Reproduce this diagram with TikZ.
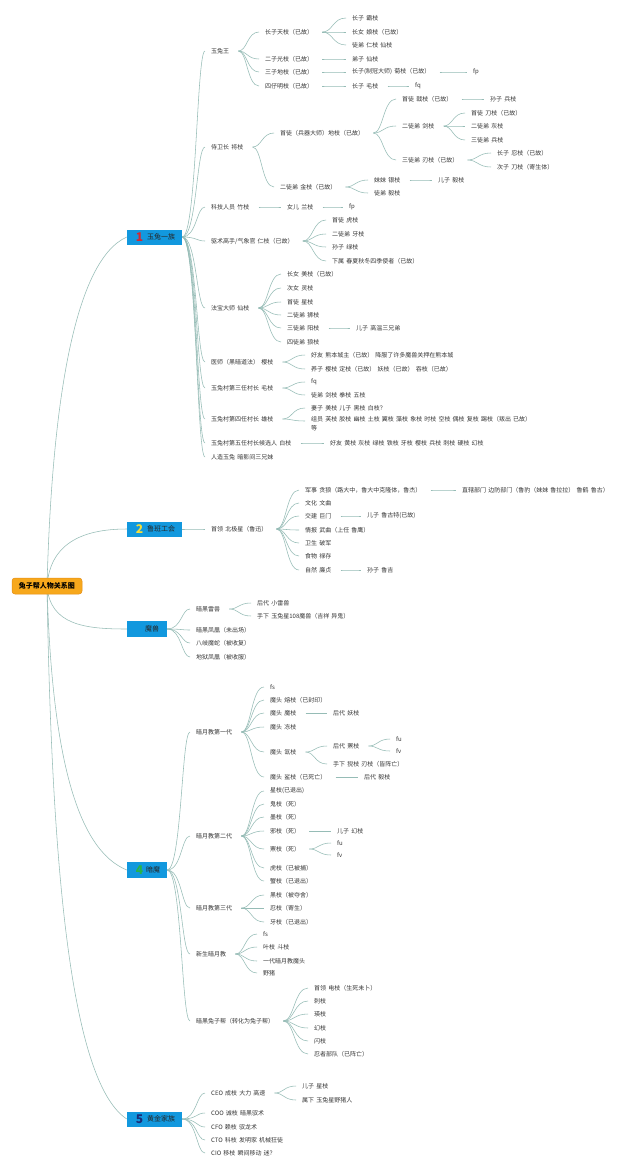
\documentclass[tikz,border=0pt]{standalone}
\usepackage{fontspec}
\setmainfont{Noto Sans CJK SC}[WordSpace=1.6]
\usetikzlibrary{calc,backgrounds}
\definecolor{txtc}{RGB}{55,55,55}
\definecolor{linec}{RGB}{150,188,182}
\definecolor{boxc}{RGB}{18,152,222}
\definecolor{rootc}{RGB}{247,168,28}
\definecolor{rootb}{RGB}{228,140,20}
\definecolor{n1c}{RGB}{214,38,48}
\definecolor{n2c}{RGB}{246,222,58}
\definecolor{n4c}{RGB}{40,180,70}
\definecolor{n5c}{RGB}{25,45,120}
\newcommand\fs{\fontsize{6}{9}\selectfont}
\tikzset{
 t/.style={anchor=west, inner sep=0pt, text=txtc, font=\fs},
 conn/.style={draw=linec, line width=0.55pt},
 catbox/.style={fill=boxc, inner sep=0pt, minimum height=15pt},
 numtxt/.style={inner sep=0pt, font=\fontsize{12}{12}\selectfont\bfseries},
 cattxt/.style={anchor=west, inner sep=0pt, font=\fontsize{7}{8}\selectfont, text=black!85},
}
\newcommand\lkp[3]{%
 \path ($(#2)!.5!(#3)$) coordinate (m);
 \draw[conn] ([xshift=#1]#2) .. controls (m |- #2) and (m |- #3) .. ([xshift=-6pt]#3);}
\newcommand\lk[2]{\lkp{9pt}{#1.east}{#2.west}}
\newcommand\lkb[2]{\lkp{0pt}{#1.east}{#2.west}}
\begin{document}
\begin{tikzpicture}[x=1pt,y=-1pt]
\useasboundingbox (0,0) rectangle (640,1171);
% root and categories
\node[fill=rootc, draw=rootb, line width=0.5pt, rounded corners=3pt, minimum width=70pt, minimum height=16pt, inner sep=0pt, font=\fontsize{7}{8}\selectfont\bfseries] (root) at (47,586) {兔子帮人物关系图};
\node[catbox, minimum width=55pt] (c1) at (154.5,237) {};
\node[numtxt, text=n1c] (c1n) at (139.5,237) {1};
\node[cattxt] (c1t) at (147,237) {玉兔一族};
\node[catbox, minimum width=55pt] (c2) at (154.5,529) {};
\node[numtxt, text=n2c] (c2n) at (139.5,529) {2};
\node[cattxt] (c2t) at (147,529) {鲁班工会};
\node[catbox, minimum width=40pt, minimum height=16pt] (c3) at (147,629) {};
\node[cattxt] (c3t) at (145,629) {魔兽};
\node[catbox, minimum width=40pt, minimum height=16pt] (c4) at (147,870) {};
\node[numtxt, text=n4c] (c4n) at (139.5,870) {4};
\node[cattxt] (c4t) at (146,870) {暗魔};
\node[catbox, minimum width=55pt] (c5) at (154.5,1119) {};
\node[numtxt, text=n5c] (c5n) at (139.5,1119) {5};
\node[cattxt] (c5t) at (147,1119) {黄金家族};
\begin{scope}[on background layer]
\fill[white] (0,0) rectangle (640,1171);
\draw[conn] (root.center) .. controls (52,400) and (75,260) .. (c1.west);
\draw[conn] (root.center) .. controls (50,545) and (80,529) .. (c2.west);
\draw[conn] (root.center) .. controls (50,625) and (85,629) .. (c3.west);
\draw[conn] (root.center) .. controls (52,760) and (78,850) .. (c4.west);
\draw[conn] (root.center) .. controls (52,900) and (75,1085) .. (c5.west);
\end{scope}
% ---------- 1 玉兔一族
\node[t] (a1) at (211,51) {玉兔王};
\node[t] (a2) at (211,147) {侍卫长 将枝};
\node[t] (a3) at (211,207) {科技人员 竹枝};
\node[t] (a4) at (211,241) {驱术高手/气象官 仁枝（已故）};
\node[t] (a5) at (211,308) {法宝大师 仙枝};
\node[t] (a6) at (211,362) {医师（黑暗道法） 樱枝};
\node[t] (a7) at (211,388) {玉兔村第三任村长 毛枝};
\node[t] (a8) at (211,419) {玉兔村第四任村长 雄枝};
\node[t] (a9) at (211,443) {玉兔村第五任村长候选人 白枝};
\node[t] (a10) at (211,457) {人造玉兔 暗影间三兄妹};
\foreach \n in {a1,a2,a3,a4,a5,a6,a7,a8,a9,a10} {\lkb{c1}{\n}}
\node[t] (b1) at (265,32) {长子天枝（已故）};
\node[t] (b2) at (265,59) {二子光枝（已故）};
\node[t] (b3) at (265,72) {三子地枝（已故）};
\node[t] (b4) at (265,86) {四仔明枝（已故）};
\foreach \n in {b1,b2,b3,b4} {\lk{a1}{\n}}
\node[t] (b1a) at (352,18) {长子 霸枝};
\node[t] (b1b) at (352,32) {长女 娘枝（已故）};
\node[t] (b1c) at (352,45) {徒弟 仁枝 仙枝};
\foreach \n in {b1a,b1b,b1c} {\lk{b1}{\n}}
\node[t] (b2a) at (352,59) {弟子 仙枝};
\lk{b2}{b2a}
\node[t] (b3a) at (352,72) {长子(制冠大师) 菊枝（已故）};
\node[t] (b3b) at (473,72) {fp};
\lk{b3}{b3a} \lk{b3a}{b3b}
\node[t] (b4a) at (352,86) {长子 毛枝};
\node[t] (b4b) at (415,86) {fq};
\lk{b4}{b4a} \lk{b4a}{b4b}
% 侍卫长
\node[t] (d1) at (280,133) {首徒（兵器大师）地枝（已故）};
\node[t] (d2) at (280,187) {二徒弟 金枝（已故）};
\lk{a2}{d1} \lk{a2}{d2}
\node[t] (e1) at (402,99) {首徒 戟枝（已故）};
\node[t] (e2) at (402,126) {二徒弟 剑枝};
\node[t] (e3) at (402,160) {三徒弟 刃枝（已故）};
\foreach \n in {e1,e2,e3} {\lk{d1}{\n}}
\node[t] (e1a) at (490,99) {孙子 兵枝};
\lk{e1}{e1a}
\node[t] (e2a) at (471,113) {首徒 刀枝（已故）};
\node[t] (e2b) at (471,126) {二徒弟 灰枝};
\node[t] (e2c) at (471,140) {三徒弟 兵枝};
\foreach \n in {e2a,e2b,e2c} {\lk{e2}{\n}}
\node[t] (e3a) at (497,153) {长子 忍枝（已故）};
\node[t] (e3b) at (497,167) {次子 刀枝（寄生体）};
\lk{e3}{e3a} \lk{e3}{e3b}
\node[t] (f1) at (374,180) {妹妹 银枝};
\node[t] (f1a) at (438,180) {儿子 毅枝};
\node[t] (f2) at (374,193) {徒弟 毅枝};
\lk{d2}{f1} \lk{d2}{f2} \lk{f1}{f1a}
% 科技人员
\node[t] (g1) at (287,207) {女儿 兰枝};
\node[t] (g2) at (349,207) {fp};
\lk{a3}{g1} \lk{g1}{g2}
% 驱术高手
\node[t] (h1) at (332,220) {首徒 虎枝};
\node[t] (h2) at (332,234) {二徒弟 牙枝};
\node[t] (h3) at (332,247) {孙子 绿枝};
\node[t] (h4) at (332,261) {下属 春夏秋冬四季使者（已故）};
\foreach \n in {h1,h2,h3,h4} {\lk{a4}{\n}}
% 法宝大师
\node[t] (i1) at (287,274) {长女 美枝（已故）};
\node[t] (i2) at (287,288) {次女 灵枝};
\node[t] (i3) at (287,302) {首徒 星枝};
\node[t] (i4) at (287,315) {二徒弟 狮枝};
\node[t] (i5) at (287,328) {三徒弟 阳枝};
\node[t] (i6) at (287,342) {四徒弟 狼枝};
\foreach \n in {i1,i2,i3,i4,i5,i6} {\lk{a5}{\n}}
\node[t] (i5a) at (356,328) {儿子 高温三兄弟};
\lk{i5}{i5a}
% 医师
\node[t] (j1) at (311,355) {好友 熊本城主（已故） 降服了许多魔兽关押在熊本城};
\node[t] (j2) at (311,369) {养子 樱枝 定枝（已故） 妖枝（已故） 吞枝（已故）};
\lk{a6}{j1} \lk{a6}{j2}
\node[t] (k1) at (311,382) {fq};
\node[t] (k2) at (311,395) {徒弟 剑枝 拳枝 五枝};
\lk{a7}{k1} \lk{a7}{k2}
\node[t] (l1) at (311,408) {妻子 美枝 儿子 黑枝 白枝？};
\node[t, anchor=north west, align=left] (l2) at (311,416.5) {组员 芙枝 胶枝 幽枝 土枝 翼枝 藻枝 象枝 时枝 空枝 偶枝 复枝 踢枝（叛出 已故）\\等};
\coordinate (l2e) at ([yshift=-4.5pt]l2.north west);
\lk{a8}{l1} \lkp{9pt}{a8.east}{l2e}
\node[t] (n1) at (330,443) {好友 黄枝 灰枝 绿枝 铁枝 牙枝 樱枝 兵枝 刺枝 硬枝 幻枝};
\lk{a9}{n1}
% ---------- 2 鲁班工会
\node[t] (p0) at (211,529) {首领 北极星（鲁迅）};
\lkb{c2}{p0}
\node[t] (p1) at (305,490) {军事 贪狼（路大中，鲁大中克隆体，鲁杰）};
\node[t] (p2) at (305,503) {文化 文曲};
\node[t] (p3) at (305,516) {交建 巨门};
\node[t] (p4) at (305,530) {情报 武曲（上任 鲁鹰）};
\node[t] (p5) at (305,543) {卫生 破军};
\node[t] (p6) at (305,556) {食物 禄存};
\node[t] (p7) at (305,570) {自然 廉贞};
\foreach \n in {p1,p2,p3,p4,p5,p6,p7} {\lk{p0}{\n}}
\node[t] (p1a) at (462,490) {直辖部门 边防部门（鲁豹（妹妹 鲁拉拉） 鲁鹤 鲁古）};
\node[t] (p3a) at (367,516) {儿子 鲁古特(已故)};
\node[t] (p7a) at (367,570) {孙子 鲁吉};
\lk{p1}{p1a} \lk{p3}{p3a} \lk{p7}{p7a}
% ---------- 魔兽
\node[t] (q1) at (196,609) {暗黑雷兽};
\node[t] (q2) at (196,630) {暗黑凤凰（未出场）};
\node[t] (q3) at (196,643) {八岐魔蛇（被收复）};
\node[t] (q4) at (196,657) {地狱凤凰（被收服）};
\foreach \n in {q1,q2,q3,q4} {\lkb{c3}{\n}}
\node[t] (q1a) at (257,603) {后代 小雷兽};
\node[t] (q1b) at (257,616) {手下 玉兔星108魔兽（吉祥 异鬼）};
\lk{q1}{q1a} \lk{q1}{q1b}
% ---------- 4 暗魔
\node[t] (r1) at (196,732) {暗月教第一代};
\node[t] (r2) at (196,836) {暗月教第二代};
\node[t] (r3) at (196,908) {暗月教第三代};
\node[t] (r4) at (196,954) {新生暗月教};
\node[t] (r5) at (196,1021) {暗黑兔子帮（转化为兔子帮）};
\foreach \n in {r1,r2,r3,r4,r5} {\lkb{c4}{\n}}
\node[t] (r1a) at (270,687) {fs};
\node[t] (r1b) at (270,700) {魔头 熔枝（已封印）};
\node[t] (r1c) at (270,713) {魔头 魔枝};
\node[t] (r1d) at (270,727) {魔头 冻枝};
\node[t] (r1e) at (270,752) {魔头 氙枝};
\node[t] (r1f) at (270,777) {魔头 鲨枝（已死亡）};
\foreach \n in {r1a,r1b,r1c,r1d,r1e,r1f} {\lk{r1}{\n}}
\node[t] (r1c1) at (333,713) {后代 妖枝};
\lk{r1c}{r1c1}
\node[t] (r1e1) at (333,746) {后代 罴枝};
\node[t] (r1e2) at (333,764) {手下 猊枝 刃枝（皆阵亡）};
\lk{r1e}{r1e1} \lk{r1e}{r1e2}
\node[t] (r1e1a) at (396,739) {fu};
\node[t] (r1e1b) at (396,751) {fv};
\lk{r1e1}{r1e1a} \lk{r1e1}{r1e1b}
\node[t] (r1f1) at (364,777) {后代 毅枝};
\lk{r1f}{r1f1}
\node[t] (r2a) at (270,791) {星枝(已退出)};
\node[t] (r2b) at (270,804) {鬼枝（死）};
\node[t] (r2c) at (270,817) {墨枝（死）};
\node[t] (r2d) at (270,831) {邪枝（死）};
\node[t] (r2e) at (270,849) {罴枝（死）};
\node[t] (r2f) at (270,868) {虎枝（已被捕）};
\node[t] (r2g) at (270,881) {蟹枝（已退出）};
\foreach \n in {r2a,r2b,r2c,r2d,r2e,r2f,r2g} {\lk{r2}{\n}}
\node[t] (r2d1) at (337,831) {儿子 幻枝};
\lk{r2d}{r2d1}
\node[t] (r2e1) at (337,843) {fu};
\node[t] (r2e2) at (337,855) {fv};
\lk{r2e}{r2e1} \lk{r2e}{r2e2}
\node[t] (r3a) at (270,895) {黑枝（被夺舍）};
\node[t] (r3b) at (270,908) {忍枝（寄生）};
\node[t] (r3c) at (270,922) {牙枝（已退出）};
\foreach \n in {r3a,r3b,r3c} {\lk{r3}{\n}}
\node[t] (r4a) at (263,934) {fs};
\node[t] (r4b) at (263,947) {叶枝 斗枝};
\node[t] (r4c) at (263,961) {一代暗月教魔头};
\node[t] (r4d) at (263,973) {野猪};
\foreach \n in {r4a,r4b,r4c,r4d} {\lk{r4}{\n}}
\node[t] (r5a) at (314,988) {首领 电枝（生死未卜）};
\node[t] (r5b) at (314,1001) {刺枝};
\node[t] (r5c) at (314,1014) {瑛枝};
\node[t] (r5d) at (314,1028) {幻枝};
\node[t] (r5e) at (314,1041) {闪枝};
\node[t] (r5f) at (314,1054) {忍者部队（已阵亡）};
\foreach \n in {r5a,r5b,r5c,r5d,r5e,r5f} {\lk{r5}{\n}}
% ---------- 5 黄金家族
\node[t] (s1) at (211,1093) {CEO 成枝 大力 高速};
\node[t] (s2) at (211,1113) {COO 诚枝 暗黑驭术};
\node[t] (s3) at (211,1127) {CFO 赖枝 驭龙术};
\node[t] (s4) at (211,1140) {CTO 科枝 发明家 机械狂徒};
\node[t] (s5) at (211,1153) {CIO 移枝 瞬间移动 迷？};
\foreach \n in {s1,s2,s3,s4,s5} {\lkb{c5}{\n}}
\node[t] (s1a) at (302,1086) {儿子 星枝};
\node[t] (s1b) at (302,1100) {属下 玉兔星野猪人};
\lk{s1}{s1a} \lk{s1}{s1b}
\end{tikzpicture}
\end{document}
